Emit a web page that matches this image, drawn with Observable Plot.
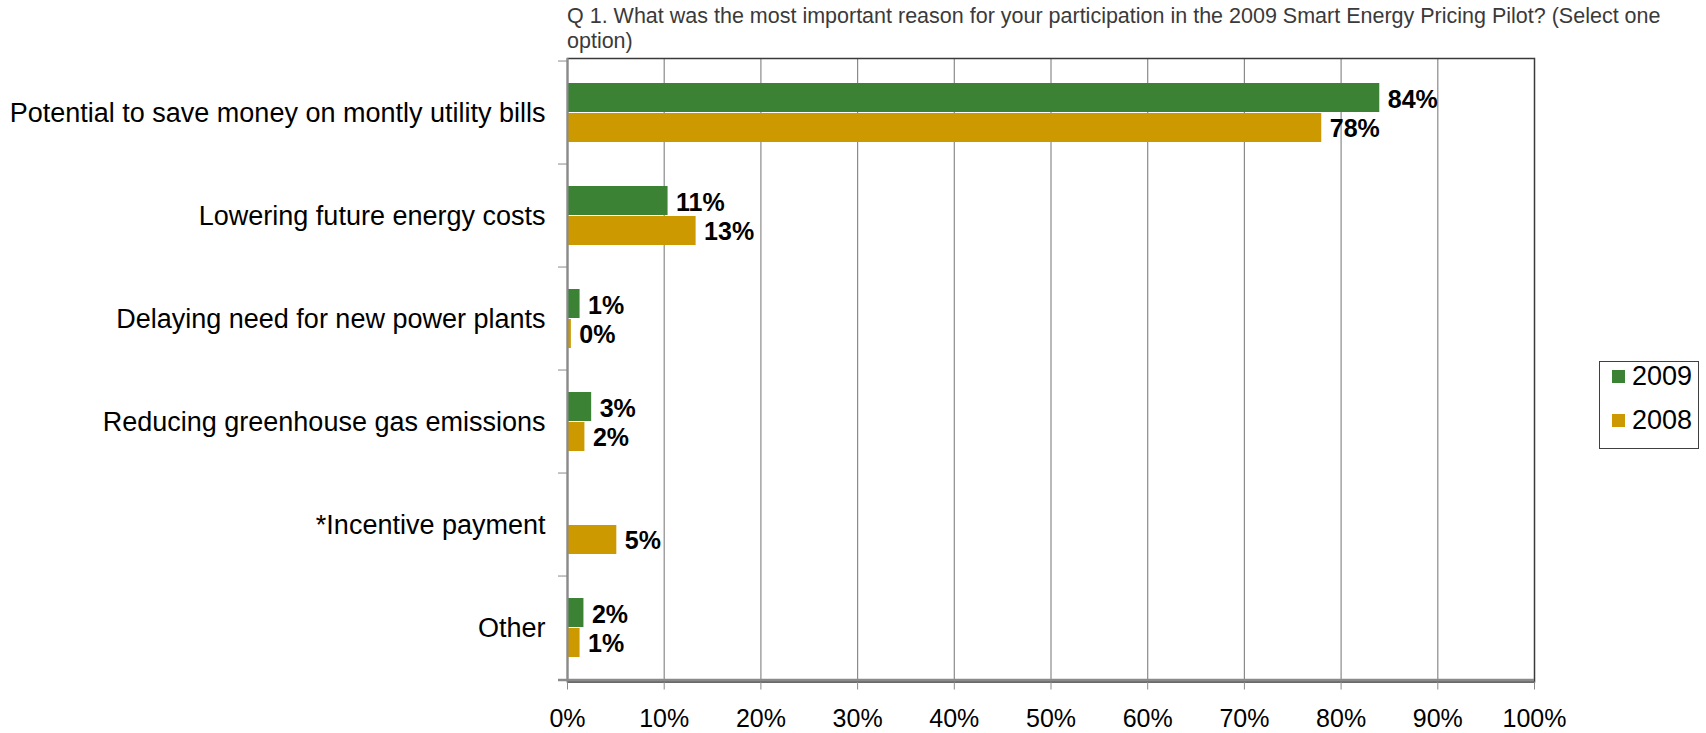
<!DOCTYPE html>
<html>
<head>
<meta charset="utf-8">
<script src="https://cdn.jsdelivr.net/npm/d3@7"></script>
<script src="https://cdn.jsdelivr.net/npm/@observablehq/plot@0.6"></script>
<style>
  html, body { margin: 0; padding: 0; background: #fff; }
  #wrap { position: relative; width: 1706px; height: 733px; overflow: hidden; font-family: "Liberation Sans", Arial, sans-serif; }
  #chart { position: absolute; left: 0; top: 0; }
  #title { position: absolute; left: 567px; top: 4px; width: 1130px; font-size: 21.5px; line-height: 25px; color: #3a3a3a; }
  #legend { position: absolute; left: 1599px; top: 361px; width: 100px; height: 88px; border: 1.5px solid #404040; box-sizing: border-box; background: #fff; }
  .item { position: absolute; left: 12px; display: flex; align-items: center; font-size: 27px; color: #000; }
  .sw { width: 13px; height: 13px; margin-right: 7px; }
</style>
</head>
<body>
<div id="wrap">
  <div id="chart"></div>
  <div id="title">Q 1. What was the most important reason for your participation in the 2009 Smart Energy Pricing Pilot? (Select one option)</div>
  <div id="legend"></div>
</div>
<script>
const categories = [
  "Potential to save money on montly utility bills",
  "Lowering future energy costs",
  "Delaying need for new power plants",
  "Reducing greenhouse gas emissions",
  "*Incentive payment",
  "Other"
];
const series = ["2009", "2008"];
const values2009 = [84.0, 10.4, 1.3, 2.5, null, 1.7];
const values2008 = [78.0, 13.3, 0.4, 1.8, 5.1, 1.3];
const labels2009 = ["84%", "11%", "1%", "3%", "", "2%"];
const labels2008 = ["78%", "13%", "0%", "2%", "5%", "1%"];
const xTicks = [0, 10, 20, 30, 40, 50, 60, 70, 80, 90, 100];

const colors = {"2009": "#3b8234", "2008": "#cc9900"};

const rows2009 = categories.map((c, i) => ({category: c, value: values2009[i], label: labels2009[i]})).filter(d => d.value != null);
const rows2008 = categories.map((c, i) => ({category: c, value: values2008[i], label: labels2008[i]})).filter(d => d.value != null);

const W = 1706, H = 733;
const mL = 567, mR = 172, mT = 58, mB = 51.5;
const bw = (H - mT - mB) / categories.length;
const gray = "#8a8a8a";

const chart = Plot.plot({
  width: W,
  height: H,
  marginLeft: mL,
  marginRight: mR,
  marginTop: mT,
  marginBottom: mB,
  style: {fontFamily: "'Liberation Sans', Arial, sans-serif", background: "white", color: "black", overflow: "visible"},
  x: {domain: [0, 100], ticks: xTicks, tickFormat: d => d + "%"},
  y: {domain: categories, padding: 0},
  marks: [
    Plot.gridX(xTicks.slice(1, -1), {stroke: gray, strokeOpacity: 1, strokeWidth: 1.2}),
    Plot.frame({stroke: "#3a3a3a", strokeWidth: 1.5}),
    Plot.barX(rows2009, {x: "value", y: "category", fill: colors["2009"], insetTop: 22, insetBottom: 52}),
    Plot.barX(rows2008, {x: "value", y: "category", fill: colors["2008"], insetTop: 52, insetBottom: 22}),
    Plot.ruleX([0], {stroke: gray, strokeWidth: 2}),
    Plot.ruleY([categories[categories.length - 1]], {dy: bw / 2, stroke: gray, strokeWidth: 2.5, insetLeft: -9, insetRight: 0}),
    Plot.axisX({ticks: xTicks, tickFormat: d => d + "%", tickSize: 8, tickPadding: 19, fontSize: 25, stroke: gray, fill: "black", label: null}),
    Plot.axisY({tickSize: 0, tickPadding: 22, fontSize: 27, fill: "black", label: null}),
    Plot.axisY({text: null, tickSize: 9, dy: -bw / 2, stroke: gray, label: null}),
    Plot.text(rows2009, {x: "value", y: "category", text: "label", dx: 8, dy: -13, textAnchor: "start", fontWeight: "bold", fontSize: 25, fill: "black"}),
    Plot.text(rows2008, {x: "value", y: "category", text: "label", dx: 8, dy: 16, textAnchor: "start", fontWeight: "bold", fontSize: 25, fill: "black"})
  ]
});
document.getElementById("chart").appendChild(chart);

const legend = document.getElementById("legend");
series.forEach((s, i) => {
  const item = document.createElement("div");
  item.className = "item";
  item.style.top = (i === 0 ? 13 : 57) + "px";
  item.style.marginTop = "-14px";
  item.innerHTML = `<span class="sw" style="background:${colors[s]}"></span><span>${s}</span>`;
  legend.appendChild(item);
});
</script>
</body>
</html>
